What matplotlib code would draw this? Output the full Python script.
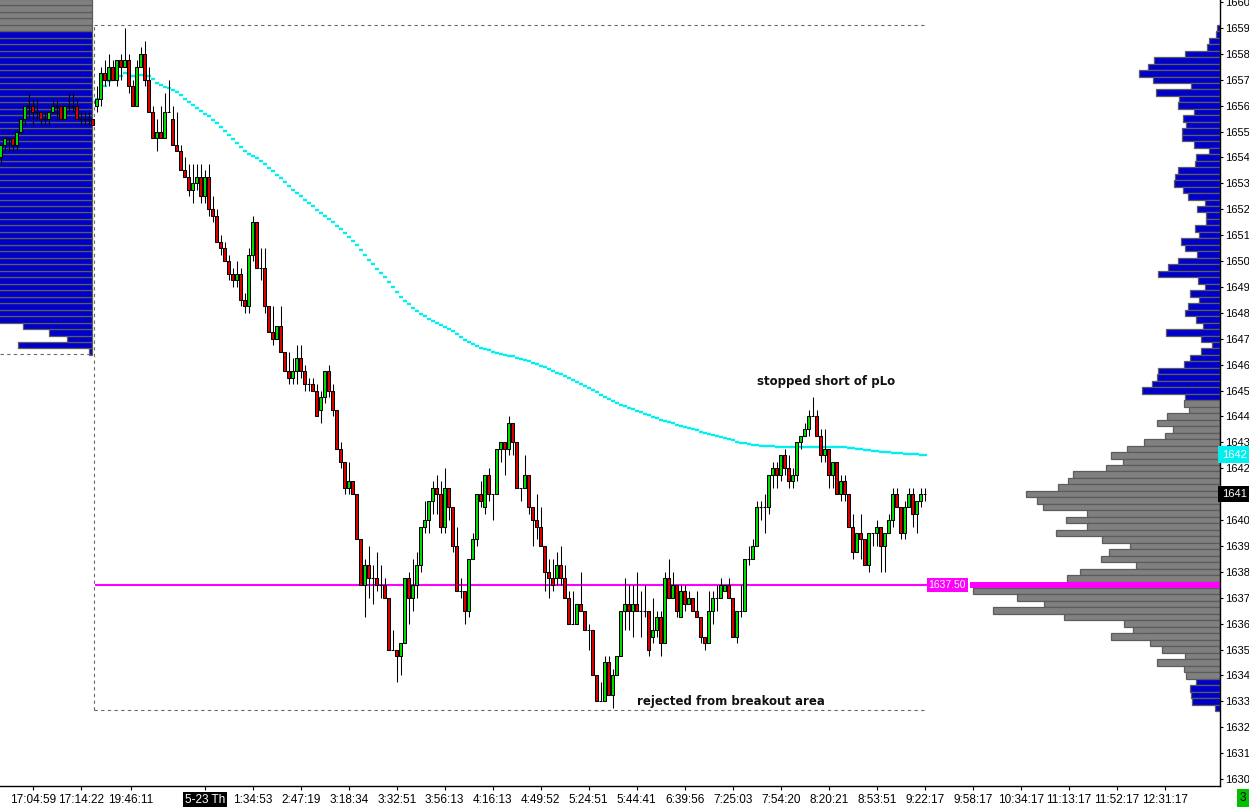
import numpy as np
import matplotlib
matplotlib.use("Agg")
import matplotlib.pyplot as plt
from matplotlib.transforms import blended_transform_factory

plt.rcParams['font.family'] = ['Liberation Sans', 'DejaVu Sans']

# ---- main session bars (5-23), one per 4 px column ----
opens = [
    1656.0, 1656.25, 1657.25, 1657.0, 1657.5, 1657.0, 1657.75, 1657.5, 1657.75, 1656.75,
    1656.0, 1657.5, 1658.0, 1657.0, 1655.75, 1654.75, 1655.0, 1654.75, 1655.75, 1655.5,
    1654.5, 1654.25, 1653.5, 1653.25, 1652.75, 1653.0, 1653.25, 1652.5, 1653.25, 1652.0,
    1651.75, 1650.75, 1650.5, 1650.0, 1649.5, 1649.25, 1649.5, 1648.5, 1648.25, 1650.25,
    1651.5, 1649.75, 1649.75,
    1648.25, 1647.25, 1647.0, 1647.5, 1646.5, 1645.75, 1645.5, 1645.75, 1646.25, 1645.75,
    1645.25, 1645.25, 1645.0, 1644.25, 1644.75, 1645.75, 1645.0, 1644.25, 1642.75, 1642.25,
    1641.25, 1641.5, 1641.0, 1639.25, 1637.5, 1638.25, 1637.75, 1637.75, 1637.5, 1637.5,
    1637.0, 1635.0, 1635.0, 1634.75, 1635.25, 1637.75,
    1637.0, 1637.5, 1638.25, 1639.75, 1640.0, 1640.75, 1641.25, 1641.0, 1639.75, 1641.25,
    1640.5, 1639.0, 1637.25, 1637.25, 1636.5, 1638.5, 1639.25, 1641.0, 1640.5, 1641.75,
    1641.0, 1641.0, 1642.75, 1643.0, 1642.75, 1643.75, 1643.0, 1641.25, 1641.25, 1641.75,
    1640.5, 1640.0, 1639.75, 1639.0, 1638.0, 1637.75, 1637.75, 1638.25, 1637.75, 1637.0,
    1636.0, 1636.0,
    1636.75, 1636.5, 1635.75, 1635.75, 1634.0, 1633.0, 1633.0, 1634.5, 1633.25, 1634.0,
    1634.75, 1636.5, 1636.75, 1636.5, 1636.75, 1636.5, 1636.5, 1636.5, 1635.5, 1635.75,
    1636.25, 1635.25, 1637.75, 1637.0, 1637.5, 1636.25, 1637.25, 1636.75, 1637.0, 1636.5,
    1636.25, 1635.5, 1635.25, 1636.5, 1637.0, 1637.0, 1637.25, 1637.5, 1637.0, 1635.5,
    1636.5, 1636.5, 1638.5,
    1638.5, 1639.0, 1640.5, 1640.5, 1640.5, 1641.75, 1642.0, 1641.75, 1642.5, 1642.0,
    1641.5, 1641.75, 1643.0, 1643.25, 1643.5, 1644.0, 1644.0, 1643.25, 1642.5, 1642.75,
    1641.75, 1642.25, 1641.0, 1641.5, 1641.0, 1639.75, 1638.75, 1639.5, 1639.25, 1638.25,
    1639.5, 1639.5, 1639.75, 1639.0, 1639.5, 1640.0, 1641.0, 1640.5, 1639.5, 1640.5,
    1641.0, 1640.25, 1640.75, 1641.0,
]
highs = [
    1656.75, 1657.5, 1657.75, 1658.0, 1657.75, 1657.75, 1658.0, 1659.0, 1658.0, 1657.0,
    1657.75, 1658.25, 1658.5, 1657.5, 1656.0, 1655.5, 1656.0, 1656.5, 1657.0, 1656.0,
    1655.75, 1654.5, 1654.0, 1653.75, 1653.75, 1653.75, 1653.75, 1653.5, 1653.75, 1652.5,
    1652.0, 1651.0, 1650.75, 1650.25, 1649.75, 1650.0, 1649.75, 1648.75, 1650.5, 1651.75,
    1651.5, 1650.5, 1650.5,
    1648.25, 1648.25, 1647.5, 1648.25, 1646.5, 1646.5, 1646.25, 1646.75, 1646.75, 1646.0,
    1645.5, 1645.5, 1645.25, 1645.0, 1645.75, 1646.0, 1645.25, 1644.25, 1643.0, 1642.25,
    1642.25, 1641.5, 1641.0, 1639.25, 1638.5, 1639.0, 1638.25, 1638.75, 1638.25, 1637.75,
    1637.0, 1635.75, 1635.0, 1635.25, 1637.75, 1638.0,
    1638.5, 1638.75, 1639.75, 1640.75, 1640.75, 1641.5, 1641.75, 1641.5, 1642.0, 1641.25,
    1640.5, 1639.75, 1637.75, 1637.25, 1638.5, 1639.5, 1641.0, 1641.5, 1641.75, 1642.0,
    1641.0, 1642.75, 1643.0, 1643.0, 1644.0, 1643.75, 1643.0, 1641.25, 1642.5, 1641.75,
    1640.5, 1641.0, 1640.5, 1639.0, 1638.5, 1638.5, 1638.75, 1639.0, 1638.25, 1637.25,
    1637.25, 1636.75,
    1638.0, 1636.5, 1636.0, 1635.75, 1634.0, 1633.75, 1634.75, 1634.75, 1634.25, 1634.75,
    1636.5, 1637.75, 1637.5, 1637.5, 1638.0, 1637.25, 1637.5, 1636.5, 1637.0, 1636.5,
    1636.5, 1638.0, 1638.5, 1638.0, 1637.5, 1637.5, 1637.5, 1637.25, 1637.0, 1637.25,
    1636.25, 1635.5, 1637.25, 1637.25, 1637.5, 1637.75, 1637.5, 1637.75, 1637.0, 1636.5,
    1637.5, 1638.5, 1639.0,
    1639.25, 1640.75, 1640.75, 1641.0, 1641.75, 1642.25, 1642.25, 1642.5, 1642.75, 1642.5,
    1642.0, 1643.0, 1643.25, 1643.75, 1644.25, 1644.75, 1644.25, 1643.5, 1643.5, 1642.75,
    1642.25, 1642.25, 1641.75, 1641.75, 1641.0, 1640.25, 1639.5, 1640.25, 1639.25, 1639.5,
    1639.5, 1640.0, 1639.75, 1639.5, 1640.25, 1641.25, 1641.25, 1640.5, 1640.75, 1641.25,
    1641.25, 1640.75, 1641.25, 1641.25,
]
lows = [
    1655.75, 1656.0, 1656.75, 1656.75, 1657.0, 1656.75, 1657.0, 1657.5, 1656.5, 1656.0,
    1656.0, 1657.5, 1656.75, 1655.75, 1654.75, 1654.25, 1654.75, 1654.75, 1655.75, 1654.5,
    1654.25, 1653.5, 1653.25, 1652.5, 1652.25, 1652.75, 1652.25, 1652.25, 1651.75, 1651.5,
    1650.75, 1650.25, 1650.0, 1649.25, 1649.0, 1649.0, 1648.25, 1648.0, 1648.0, 1650.0,
    1649.75, 1649.25, 1648.0,
    1647.25, 1646.75, 1647.0, 1646.5, 1645.75, 1645.25, 1645.25, 1645.25, 1645.5, 1645.0,
    1645.0, 1645.0, 1644.0, 1643.75, 1644.5, 1644.75, 1644.0, 1642.75, 1642.0, 1641.0,
    1641.0, 1641.0, 1639.25, 1637.5, 1636.25, 1637.0, 1636.75, 1637.25, 1637.0, 1637.0,
    1635.0, 1635.0, 1633.75, 1634.0, 1635.25, 1636.0,
    1636.5, 1637.0, 1638.0, 1639.5, 1639.5, 1640.25, 1640.25, 1639.5, 1639.5, 1640.0,
    1638.75, 1637.25, 1637.0, 1636.0, 1636.25, 1638.5, 1639.0, 1640.5, 1640.25, 1640.75,
    1640.0, 1641.0, 1642.25, 1641.75, 1642.5, 1642.5, 1641.25, 1640.75, 1641.25, 1640.25,
    1639.0, 1639.25, 1639.0, 1637.25, 1637.0, 1637.25, 1637.5, 1637.5, 1637.0, 1636.0,
    1636.0, 1636.0,
    1636.5, 1635.75, 1635.0, 1634.0, 1633.0, 1633.0, 1633.0, 1633.25, 1632.75, 1634.0,
    1634.75, 1635.75, 1635.75, 1635.5, 1636.5, 1635.5, 1636.25, 1634.75, 1635.25, 1635.5,
    1634.75, 1635.25, 1637.0, 1637.0, 1636.25, 1636.25, 1636.5, 1636.75, 1636.5, 1636.25,
    1635.25, 1635.0, 1635.25, 1636.0, 1636.5, 1637.0, 1637.25, 1637.0, 1635.5, 1635.25,
    1636.25, 1636.5, 1638.25,
    1638.5, 1639.0, 1640.0, 1639.5, 1640.25, 1641.25, 1641.25, 1641.5, 1641.75, 1641.25,
    1641.25, 1641.5, 1642.75, 1643.25, 1643.25, 1644.0, 1643.25, 1642.25, 1642.25, 1641.25,
    1641.25, 1641.0, 1640.75, 1640.75, 1639.75, 1638.5, 1638.75, 1638.5, 1638.25, 1638.0,
    1639.0, 1639.0, 1638.0, 1638.0, 1639.5, 1639.75, 1640.5, 1639.25, 1639.25, 1640.5,
    1639.75, 1639.5, 1640.5, 1640.75,
]
closes = [
    1656.25, 1657.25, 1657.0, 1657.5, 1657.0, 1657.75, 1657.5, 1657.75, 1656.75, 1656.0,
    1657.5, 1658.0, 1657.0, 1655.75, 1654.75, 1655.0, 1654.75, 1655.75, 1655.75, 1654.5,
    1654.25, 1653.5, 1653.25, 1652.75, 1653.0, 1653.25, 1652.5, 1653.25, 1652.0, 1651.75,
    1650.75, 1650.5, 1650.0, 1649.5, 1649.25, 1649.5, 1648.5, 1648.25, 1650.25, 1651.5,
    1649.75, 1649.75, 1648.25,
    1647.25, 1647.0, 1647.5, 1646.5, 1645.75, 1645.5, 1645.75, 1646.25, 1645.75, 1645.25,
    1645.25, 1645.0, 1644.0, 1644.75, 1645.75, 1645.0, 1644.25, 1642.75, 1642.25, 1641.25,
    1641.5, 1641.0, 1639.25, 1637.5, 1638.25, 1637.75, 1637.75, 1637.5, 1637.5, 1637.0,
    1635.0, 1635.0, 1634.75, 1635.25, 1637.75, 1637.0,
    1637.5, 1638.25, 1639.75, 1640.0, 1640.75, 1641.25, 1641.0, 1639.75, 1641.25, 1640.5,
    1639.0, 1637.25, 1637.25, 1636.5, 1638.5, 1639.25, 1641.0, 1640.75, 1641.75, 1641.0,
    1641.0, 1642.75, 1643.0, 1642.75, 1643.75, 1643.0, 1641.25, 1641.25, 1641.75, 1640.5,
    1640.0, 1639.75, 1639.0, 1638.0, 1637.75, 1637.5, 1638.25, 1637.75, 1637.0, 1636.0,
    1636.0, 1636.75,
    1636.5, 1635.75, 1635.75, 1634.0, 1633.0, 1633.0, 1634.5, 1633.25, 1634.0, 1634.75,
    1636.5, 1636.75, 1636.5, 1636.75, 1636.5, 1636.5, 1636.5, 1635.0, 1635.75, 1636.25,
    1635.25, 1637.75, 1637.0, 1637.5, 1636.5, 1637.25, 1636.75, 1637.0, 1636.5, 1636.25,
    1635.5, 1635.25, 1636.5, 1637.0, 1637.0, 1637.5, 1637.5, 1637.0, 1635.5, 1636.5,
    1636.5, 1638.5, 1638.5,
    1639.0, 1640.5, 1640.5, 1640.5, 1641.75, 1642.0, 1641.75, 1642.5, 1642.0, 1641.5,
    1641.75, 1643.0, 1643.25, 1643.5, 1644.0, 1644.0, 1643.25, 1642.5, 1642.75, 1641.75,
    1642.25, 1641.0, 1641.5, 1641.0, 1639.75, 1638.75, 1639.5, 1639.25, 1638.25, 1639.5,
    1639.5, 1639.75, 1639.0, 1639.5, 1640.0, 1641.0, 1640.5, 1639.5, 1640.5, 1641.0,
    1640.25, 1640.75, 1641.0, 1641.0,
]

# ---- tail of the previous session ----
prev_opens = [1654.0, 1654.5, 1654.75, 1654.75, 1654.5, 1655.0, 1655.5, 1656.0, 1656.0, 1655.75, 1655.75, 1655.5,
              1655.5, 1655.75, 1656.0, 1656.0, 1655.5, 1656.0, 1656.0, 1656.0, 1655.5, 1655.5, 1655.5, 1655.5]
prev_highs = [1654.5, 1654.75, 1654.75, 1654.75, 1655.0, 1655.5, 1656.0, 1656.5, 1656.25, 1656.25, 1655.75, 1655.75,
              1655.75, 1656.25, 1656.25, 1656.0, 1656.0, 1656.5, 1656.5, 1656.25, 1655.75, 1655.75, 1655.75, 1655.5]
prev_lows = [1653.75, 1654.25, 1654.25, 1654.25, 1654.25, 1655.0, 1655.25, 1655.5, 1655.25, 1655.5, 1655.25, 1655.25,
             1655.25, 1655.75, 1655.5, 1655.5, 1655.5, 1655.75, 1655.75, 1655.5, 1655.25, 1655.25, 1655.25, 1655.25]
prev_closes = [1654.5, 1654.75, 1654.75, 1654.5, 1655.0, 1655.5, 1656.0, 1656.0, 1655.75, 1655.75, 1655.5, 1655.5,
               1655.75, 1656.0, 1656.0, 1655.5, 1656.0, 1656.0, 1656.0, 1655.5, 1655.5, 1655.5, 1655.5, 1655.25]

# ---- volume profile, current session (1659.00 down to 1632.75, 0.25 ticks) ----
prof_top = 1659.0
prof_vol = [
    3, 4, 11, 13, 35, 66, 72, 81, 67, 29, 64, 41, 42, 26, 37, 34, 38, 38, 26, 11,
    24, 25, 42, 45, 46, 37, 32, 15, 23, 14, 14, 25, 21, 39, 35, 23, 42, 52, 62, 22,
    15, 30, 21, 32, 35, 24, 17, 54, 19, 8, 19, 30, 36, 62, 63, 68, 78, 35, 36, 31,
    53, 63, 47, 55, 76, 93, 109, 97, 114, 147, 152, 162, 194, 183, 177, 133, 154, 133, 164, 118,
    90, 111, 119, 84, 140, 153, 250, 247, 203, 176, 227, 156, 96, 87, 109, 70, 58, 35, 63, 36,
    34, 24, 30, 29, 28, 5,
]
va_high, va_low, poc = 1644.5, 1634.0, 1637.5

# ---- volume profile, previous session (1646.50 up to 1660.00), upper rows run off the left edge ----
prev_prof_low = 1646.5
prev_prof_vol = [3, 74, 25, 43, 69] + [130] * 50
prev_va_high = 1658.75

# ---- time axis ----
tick_pos = [-16, -4, 8.5, 27, 39, 51, 63, 75, 87, 99, 111, 123, 135, 147, 159, 171, 183, 195, 207,
            219, 231, 243, 255, 267]
tick_lbl = ["17:04:59", "17:14:22", "19:46:11", "5-23 Th", "1:34:53", "2:47:19", "3:18:34", "3:32:51",
            "3:56:13", "4:16:13", "4:49:52", "5:24:51", "5:44:41", "6:39:56", "7:25:03", "7:54:20",
            "8:20:21", "8:53:51", "9:22:17", "9:58:17", "10:34:17", "11:13:17", "11:52:17", "12:31:17"]

GREEN, RED = '#00e000', '#e00000'
BLUE, GRAY, EDGE = '#0000c8', '#808080', '#5c5c5c'
CYAN, MAGENTA = '#00f0f0', '#ff00ff'

W, H = 1249, 807
fig = plt.figure(figsize=(W / 100, H / 100), dpi=100)
ax = fig.add_axes([0, 21 / H, 1220 / W, 786 / H])

PX = 4.0          # pixels per bar
X0 = 96.7         # pixel column of first bar of the session
xmin, xmax = -X0 / PX, (1220 - X0) / PX
ax.set_xlim(xmin, xmax)
ax.set_ylim(1629.73, 1660.08)


def candles(x, o, h, l, c):
    o, h, l, c = map(np.asarray, (o, h, l, c))
    ax.vlines(x, l, h, color='black', lw=0.75, zorder=4)
    col = np.where(c > o, GREEN, np.where(c < o, RED, 'black'))
    ax.bar(x, c - o, bottom=o, width=0.8, color=col, edgecolor='black', linewidth=0.75, zorder=5)


# previous session profile (bars grow leftwards from its right edge)
pp = prev_prof_low + 0.25 * np.arange(len(prev_prof_vol))
pv = np.array(prev_prof_vol) / PX
p_right = -1.25
ax.barh(pp, pv, left=p_right - pv, height=0.25,
        color=np.where(pp > prev_va_high, GRAY, BLUE), edgecolor=EDGE, linewidth=0.9, zorder=1)
ax.hlines(prev_prof_low - 0.1, xmin, p_right, colors='#6a6a6a', linestyles=(0, (3, 3)), lw=0.8, zorder=2)

# current session profile (grows leftwards from the price scale)
rp = prof_top - 0.25 * np.arange(len(prof_vol))
rv = np.array(prof_vol) / PX
rcol = np.where((rp <= va_high) & (rp >= va_low), GRAY, BLUE)
is_poc = rp == poc
ax.barh(rp[~is_poc], rv[~is_poc], left=xmax - rv[~is_poc], height=0.25,
        color=rcol[~is_poc], edgecolor=EDGE, linewidth=0.9, zorder=1)
ax.barh(rp[is_poc], rv[is_poc], left=xmax - rv[is_poc], height=0.25, color=MAGENTA, lw=0, zorder=1)

# session range box
xs = np.arange(len(closes))
top = max(highs) + 0.1
bot = min(lows) - 0.1
ax.hlines([top, bot], -0.6, xs[-1] + 0.3, colors='#6a6a6a', linestyles=(0, (3, 3)), lw=0.8, zorder=2)
ax.vlines(-0.6, bot, top, colors='#6a6a6a', linestyles=(0, (3, 3)), lw=0.8, zorder=2)

# POC line and tag
ax.hlines(poc, -0.4, xs[-1] + 1.0, color=MAGENTA, lw=1.5, zorder=3)
ax.text(xs[-1] + 1.0, poc, '1637.50', color='white', fontsize=7.5, va='center', ha='left', zorder=6,
        bbox=dict(boxstyle='square,pad=0.2', fc=MAGENTA, ec='none'))

# session VWAP-style running average, one short step per bar
h_, l_, c_ = np.array(highs), np.array(lows), np.array(closes)
avg = np.cumsum((h_ + l_ + c_) / 3) / np.arange(1, len(c_) + 1)
ax.hlines(avg, xs - 0.5, xs + 0.5, color=CYAN, lw=1.7, zorder=3)

candles(np.arange(-len(prev_closes), 0), prev_opens, prev_highs, prev_lows, prev_closes)
candles(xs, opens, highs, lows, closes)

note_font = dict(family='DejaVu Sans', fontsize=8.5, fontweight='bold', color='#111111',
                 ha='center', va='center')
ax.text(182.3, 1645.33, 'stopped short of pLo', **note_font)
ax.text(158.6, 1633.0, 'rejected from breakout area', **note_font)

# axes styling
for s in ('top', 'left'):
    ax.spines[s].set_visible(False)
for s in ('right', 'bottom'):
    ax.spines[s].set_linewidth(1.0)
ax.yaxis.tick_right()
yt = np.arange(1630, 1661, 1)
ax.set_yticks(yt)
# the last-price tag replaces the scale label at that level
ax.set_yticklabels(['' if v == closes[-1] else str(v) for v in yt])
ax.tick_params(axis='y', direction='out', length=2.5, pad=1, labelsize=8, width=0.8)
ax.set_xticks(tick_pos)
ax.set_xticklabels(tick_lbl)
ax.tick_params(axis='x', direction='out', length=3, pad=2.5, labelsize=8.5, width=0.8)
for t in ax.get_xticklabels():
    if t.get_text() == '5-23 Th':
        t.set_color('white')
        t.set_bbox(dict(boxstyle='square,pad=0.15', fc='black', ec='none'))

# price tags on the scale
tr = blended_transform_factory(ax.transAxes, ax.transData)
ax.text(1.0015, avg[-1], str(int(avg[-1])), transform=tr, color='white', fontsize=8, va='center', ha='left',
        clip_on=False, zorder=10, bbox=dict(boxstyle='square,pad=0.3', fc=CYAN, ec='none'))
ax.text(1.0015, closes[-1], str(int(closes[-1])), transform=tr, color='white', fontsize=8, va='center',
        ha='left', clip_on=False, zorder=10, bbox=dict(boxstyle='square,pad=0.3', fc='black', ec='none'))
fig.text(1240 / W, 1 - 798 / H, '3', fontsize=8.5, va='center', ha='left',
         bbox=dict(boxstyle='square,pad=0.25', fc='#00c000', ec='none'))

fig.savefig('out.png', dpi=100)
